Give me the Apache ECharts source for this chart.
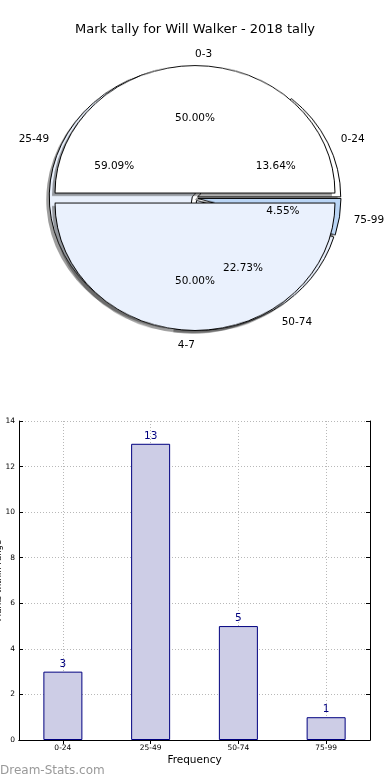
<!DOCTYPE html>
<html><head><meta charset="utf-8">
<script src="https://cdn.jsdelivr.net/npm/echarts@6/dist/echarts.min.js"></script>
<style>
html,body{margin:0;padding:0;background:#fff;}
#wrap{position:relative;width:390px;height:780px;overflow:hidden;background:#fff;}
#pie{position:absolute;left:0;top:0;width:390px;height:400px;transform-origin:195px 198px;transform:scaleY(0.91);}
#main{position:absolute;left:0;top:0;width:390px;height:780px;}
</style></head>
<body><div id="wrap"><div id="pie"></div><div id="main"></div></div>
<script>
// ---- data ----
const chartTitle = 'Mark tally for Will Walker - 2018 tally';
const rangeCategories = ['0-24', '25-49', '50-74', '75-99'];
const rangeCounts = [3, 13, 5, 1];
const halfCategories = ['0-3', '4-7'];
const halfCounts = [1, 1];
const yTickMax = 14;
const yTickStep = 2;
const xAxisTitle = 'Frequency';
const yAxisTitle = 'Marks within range';
const watermark = 'Dream-Stats.com';

// ---- style / layout ----
const FONT = 'DejaVu Sans';
const PIE_CX = 195, PIE_CY = 198, PIE_K = 0.91;
const LABEL_DY = 1.8, LABEL_DR = -3;
const R_OUT = 143, EXP_OUT = 3;
const R_IN = 140, EXP_IN = 5.5;
const outerColors = ['#ffffff', '#e9f0fc', '#e9f0fc', '#bad5f5'];
const innerColors = ['#ffffff', '#eaf1fd'];

function items(names, values, colors) {
  return names.map((n, i) => ({
    name: n, value: values[i], selected: true,
    itemStyle: colors ? { color: colors[i] } : undefined
  }));
}

function pieBase(radius, offset, extra) {
  return Object.assign({
    type: 'pie', center: [PIE_CX, PIE_CY], radius: radius,
    startAngle: 0, clockwise: false,
    selectedMode: 'multiple', selectedOffset: offset,
    avoidLabelOverlap: false, silent: true, animation: false,
    emphasis: { disabled: true },
    labelLine: { show: false }
  }, extra);
}

// ---- pie shapes (elliptical via css scale) ----
const pieChart = echarts.init(document.getElementById('pie'));
const shadowStyle = { color: 'rgba(60,60,60,0.5)', borderWidth: 0 };
pieChart.setOption({
  backgroundColor: 'transparent',
  animation: false,
  series: [
    pieBase([0, R_OUT], EXP_OUT, { center: [PIE_CX - 3, PIE_CY + 3.3], data: items(rangeCategories, rangeCounts),
      itemStyle: shadowStyle, label: { show: false } }),
    pieBase([0, R_OUT], EXP_OUT, { data: items(rangeCategories, rangeCounts, outerColors),
      itemStyle: { borderColor: '#000', borderWidth: 1 }, label: { show: false } }),
    pieBase([0, R_IN], EXP_IN, { center: [PIE_CX - 3, PIE_CY + 3.3], data: items(halfCategories, halfCounts),
      itemStyle: shadowStyle, label: { show: false } }),
    pieBase([0, R_IN], EXP_IN, { data: items(halfCategories, halfCounts, innerColors),
      itemStyle: { borderColor: '#000', borderWidth: 1 }, label: { show: false } })
  ]
});

// ---- labels + bar chart ----
function squash(byside) {
  return function (p) {
    const r = p.labelRect;
    const lx = r.x + r.width / 2, ly = r.y + r.height / 2;
    const out = { x: lx, y: PIE_CY + (ly - PIE_CY) * PIE_K + LABEL_DY };
    if (byside) {
      const d = lx - PIE_CX;
      if (Math.abs(d) < 0.5) out.align = ly < PIE_CY ? 'left' : 'right';
      else out.align = d > 0 ? 'left' : 'right';
    }
    return out;
  };
}
function labelPie(names, values, mid, isPct) {
  const total = values.reduce((a, b) => a + b, 0);
  mid += LABEL_DR;
  return pieBase([mid - 10, mid + 10], 0, {
    data: names.map((n, i) => ({ name: n, value: values[i] })),
    itemStyle: { color: 'rgba(0,0,0,0)', borderWidth: 0 },
    label: {
      show: true, position: 'inside', color: '#000', fontFamily: FONT, fontSize: 10.5,
      formatter: isPct ? (p) => (p.value / total * 100).toFixed(2) + '%' : '{b}'
    },
    labelLayout: squash(!isPct)
  });
}

const dotted = { color: '#b8b8b8', type: [1, 2], width: 1 };
const main = echarts.init(document.getElementById('main'));
main.setOption({
  backgroundColor: 'transparent',
  animation: false,
  title: {
    text: chartTitle, left: 'center', top: 23, padding: 0,
    textStyle: { fontFamily: FONT, fontSize: 13, fontWeight: 'normal', color: '#000' }
  },
  graphic: [{
    type: 'text', left: 0, top: 765,
    style: { text: watermark, fill: '#999999', font: '12px "DejaVu Sans"' }
  }],
  grid: { left: 19, right: 20, top: 421, bottom: 40, outerBoundsMode: 'none', containLabel: false },
  xAxis: [{
    type: 'category', data: rangeCategories, position: 'bottom',
    axisLine: { show: true, lineStyle: { color: '#000', width: 1 } },
    axisTick: { show: true, inside: true, alignWithLabel: true, length: 4, lineStyle: { color: '#000' } },
    axisLabel: { fontFamily: FONT, fontSize: 7.5, color: '#000', margin: 4 },
    splitLine: { show: true, alignWithLabel: true, lineStyle: dotted },
    name: xAxisTitle, nameLocation: 'middle', nameGap: 15, nameMoveOverlap: false,
    nameTextStyle: { fontFamily: FONT, fontSize: 10.5, color: '#000' }
  }, {
    type: 'category', data: rangeCategories, position: 'top',
    axisLine: { show: true, lineStyle: { color: '#000', width: 1 } },
    axisTick: { show: true, inside: true, alignWithLabel: true, length: 4, lineStyle: { color: '#000' } },
    axisLabel: { show: false }, splitLine: { show: false }
  }],
  yAxis: [{
    type: 'value', min: 0, max: yTickMax, interval: yTickStep, position: 'left',
    axisLine: { show: true, lineStyle: { color: '#000', width: 1 } },
    axisTick: { show: true, inside: true, length: 4, lineStyle: { color: '#000' } },
    axisLabel: { fontFamily: FONT, fontSize: 7.5, color: '#000', margin: 4 },
    splitLine: { show: true, lineStyle: dotted },
    name: yAxisTitle, nameLocation: 'middle', nameGap: 16, nameRotate: 90, nameMoveOverlap: false,
    nameTextStyle: { fontFamily: FONT, fontSize: 8.5, color: '#000' }
  }, {
    type: 'value', min: 0, max: yTickMax, interval: yTickStep, position: 'right',
    axisLine: { show: true, lineStyle: { color: '#000', width: 1 } },
    axisTick: { show: true, inside: true, length: 4, lineStyle: { color: '#000' } },
    axisLabel: { show: false }, splitLine: { show: false }
  }],
  series: [
    labelPie(rangeCategories, rangeCounts, 1.1 * R_OUT + EXP_OUT, false),
    labelPie(rangeCategories, rangeCounts, 0.6 * R_OUT + EXP_OUT, true),
    labelPie(halfCategories, halfCounts, 1.1 * R_IN + EXP_IN, false),
    labelPie(halfCategories, halfCounts, 0.6 * R_IN + EXP_IN, true),
    {
      type: 'bar', xAxisIndex: 0, yAxisIndex: 0, data: rangeCounts, barWidth: 39,
      itemStyle: { color: '#cdcde6', borderColor: '#000080', borderWidth: 1 },
      label: { show: true, position: 'top', distance: 2, color: '#000080', fontFamily: FONT, fontSize: 10.5 },
      silent: true
    }
  ]
});
</script>
</body></html>
